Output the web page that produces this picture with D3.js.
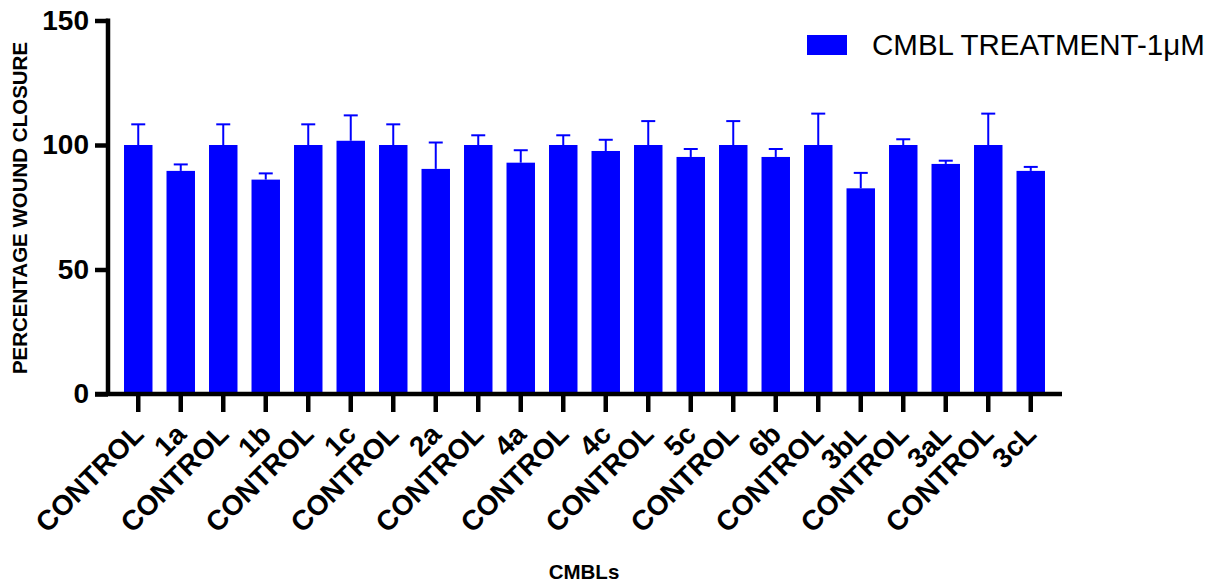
<!DOCTYPE html>
<html>
<head>
<meta charset="utf-8">
<script src="https://cdn.jsdelivr.net/npm/d3@7"></script>
<style>
  html, body { margin: 0; padding: 0; background: #fff; }
  svg { display: block; }
  text { font-family: "Liberation Sans", Arial, sans-serif; }
</style>
</head>
<body>
<svg id="chart" width="1225" height="582"></svg>
<script>
// Wound closure per compound, each preceded by its own control
const categories = ["CONTROL", "1a", "CONTROL", "1b", "CONTROL", "1c", "CONTROL", "2a",
  "CONTROL", "4a", "CONTROL", "4c", "CONTROL", "5c", "CONTROL", "6b",
  "CONTROL", "3bL", "CONTROL", "3aL", "CONTROL", "3cL"];
const means = [100, 89.6, 100, 86.1, 100, 101.7, 100, 90.4,
  100, 92.9, 100, 97.6, 100, 95.2, 100, 95.2,
  100, 82.6, 100, 92.4, 100, 89.6];
const errors = [8.3, 2.6, 8.3, 2.5, 8.3, 10.2, 8.3, 10.6,
  3.9, 5.0, 3.9, 4.5, 9.6, 3.2, 9.6, 3.2,
  12.6, 6.2, 2.3, 1.3, 12.6, 1.6];
const yTicks = [0, 50, 100, 150];
const seriesName = "CMBL TREATMENT-1\u03bcM";
const xTitle = "CMBLs";
const yTitle = "PERCENTAGE WOUND CLOSURE";

const blue = "#0000ff";
const svg = d3.select("#chart");

const x = d3.scaleBand()
  .domain(d3.range(categories.length))
  .range([117, 1052])
  .paddingInner(0.33)
  .paddingOuter(0.165);

const y = d3.scaleLinear().domain([0, 150]).range([394, 20.5]);

// Bars
svg.append("g").selectAll("rect")
  .data(means)
  .join("rect")
  .attr("x", (d, i) => x(i))
  .attr("width", x.bandwidth())
  .attr("y", d => y(d))
  .attr("height", d => y(0) - y(d))
  .attr("fill", blue);

// Error bars (upper whisker only)
const eb = svg.append("g").attr("stroke", blue).attr("stroke-width", 2);
means.forEach((m, i) => {
  const cx = x(i) + x.bandwidth() / 2;
  eb.append("line")
    .attr("x1", cx).attr("x2", cx)
    .attr("y1", y(m)).attr("y2", y(m + errors[i]));
  eb.append("line")
    .attr("x1", cx - 7).attr("x2", cx + 7)
    .attr("y1", y(m + errors[i])).attr("y2", y(m + errors[i]));
});

// Y axis
const yAxis = d3.axisLeft(y).tickValues(yTicks).tickSize(13).tickPadding(6);
const gy = svg.append("g").attr("transform", "translate(108,0)").call(yAxis);
gy.select(".domain").attr("stroke", "#000").attr("stroke-width", 4.5)
  .attr("d", `M0,${y(150) - 2}V${y(0) + 2}`);
gy.selectAll(".tick line").attr("stroke", "#000").attr("stroke-width", 4.5);
gy.selectAll(".tick text")
  .attr("font-size", 28).attr("font-weight", "bold").attr("fill", "#000")
  .attr("font-family", "Liberation Sans, Arial, sans-serif");

// X axis
const xAxis = d3.axisBottom(x).tickSize(18).tickFormat(i => categories[i]);
const gx = svg.append("g").attr("transform", `translate(0,${y(0)})`).call(xAxis);
gx.select(".domain").attr("stroke", "#000").attr("stroke-width", 4.5)
  .attr("d", "M95,0H1062");
gx.selectAll(".tick line").attr("stroke", "#000").attr("stroke-width", 4.5);
gx.selectAll(".tick text")
  .attr("font-size", 28).attr("font-weight", "bold").attr("fill", "#000")
  .attr("font-family", "Liberation Sans, Arial, sans-serif")
  .attr("text-anchor", "end")
  .attr("y", 0).attr("dy", 0)
  .attr("transform", "translate(7,42) rotate(-45)");

// Axis titles
svg.append("text")
  .attr("x", 584).attr("y", 579)
  .attr("text-anchor", "middle")
  .attr("font-size", 20.5).attr("font-weight", "bold")
  .text(xTitle);

svg.append("text")
  .attr("transform", "translate(27,208) rotate(-90)")
  .attr("text-anchor", "middle")
  .attr("font-size", 20.5).attr("font-weight", "bold")
  .text(yTitle);

// Legend
const lg = svg.append("g");
lg.append("rect").attr("x", 807).attr("y", 35).attr("width", 40).attr("height", 20).attr("fill", blue);
lg.append("text").attr("x", 872).attr("y", 55)
  .attr("font-size", 29.5)
  .text(seriesName);
</script>
</body>
</html>
